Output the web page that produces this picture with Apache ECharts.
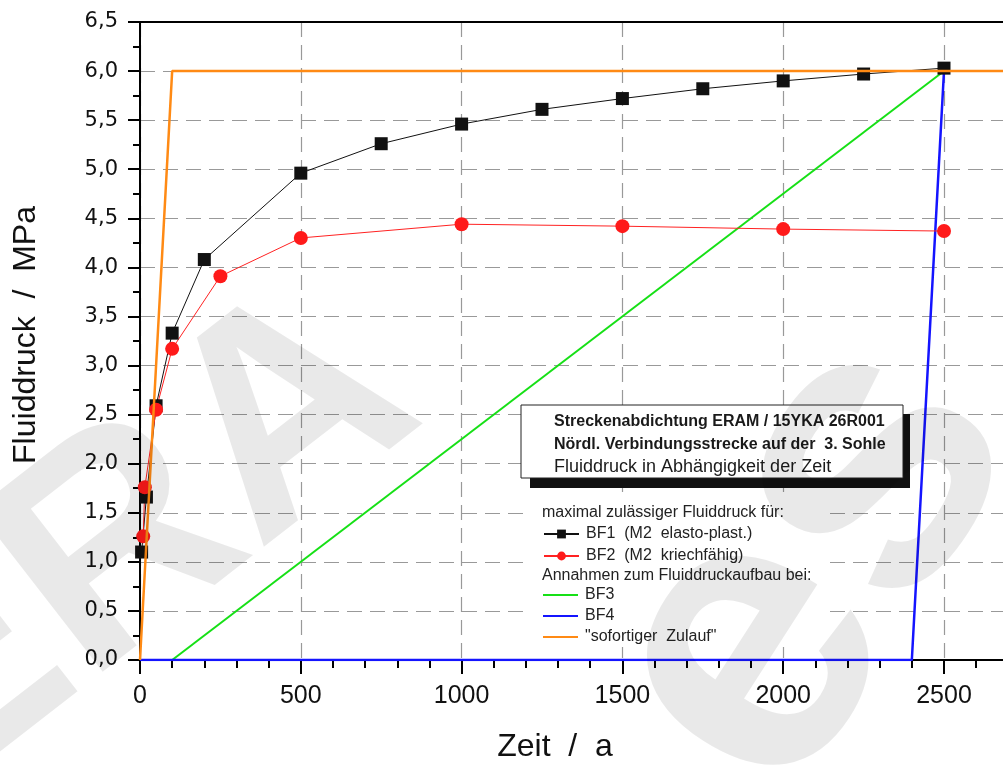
<!DOCTYPE html>
<html>
<head>
<meta charset="utf-8">
<script src="https://cdn.jsdelivr.net/npm/echarts@6/dist/echarts.min.js"></script>
<style>html,body{margin:0;padding:0;background:#fff}#c{width:1003px;height:767px}</style>
</head>
<body>
<div id="c"></div>
<script>
// ---- data ----
const bf1X = [5, 20, 50, 100, 200, 500, 750, 1000, 1250, 1500, 1750, 2000, 2250, 2500];
const bf1Y = [1.10, 1.66, 2.59, 3.33, 4.08, 4.96, 5.26, 5.46, 5.61, 5.72, 5.82, 5.90, 5.97, 6.03];
const bf2X = [10, 15, 50, 100, 250, 500, 1000, 1500, 2000, 2500];
const bf2Y = [1.26, 1.76, 2.55, 3.17, 3.91, 4.30, 4.44, 4.42, 4.39, 4.37];
const bf3X = [100, 2500];
const bf3Y = [0, 6.0];
const bf4X = [0, 2400, 2500];
const bf4Y = [0, 0, 6.0];
const sofX = [0, 100, 3000];
const sofY = [0, 6.0, 6.0];
const seriesNames = ['BF1  (M2  elasto-plast.)', 'BF2  (M2  kriechfähig)', 'BF3', 'BF4', '"sofortiger  Zulauf"'];
const xTicks = [0, 500, 1000, 1500, 2000, 2500];
const infoLines = ['Streckenabdichtung ERAM / 15YKA 26R001', 'Nördl. Verbindungsstrecke auf der  3. Sohle', 'Fluiddruck in Abhängigkeit der Zeit'];
const legendHeads = ['maximal zulässiger Fluiddruck für:', 'Annahmen zum Fluiddruckaufbau bei:'];
const xName = 'Zeit  /  a';
const yName = 'Fluiddruck  /  MPa';

const zip = (xs, ys) => xs.map((x, i) => [x, ys[i]]);
const chart = echarts.init(document.getElementById('c'), null, {renderer: 'canvas'});
const FONT = 'Liberation Sans, Arial, sans-serif';
const WM = 'rgba(0,0,0,0.085)';

chart.setOption({
  animation: false,
  backgroundColor: '#fff',
  grid: {show: false, left: 140, top: 22, width: 964.8, height: 638, containLabel: false, outerBoundsMode: 'none'},
  xAxis: [{
    type: 'value', min: 0, max: 3000, interval: 500,
    axisLine: {lineStyle: {color: '#000', width: 2}},
    axisTick: {length: 14, lineStyle: {color: '#000', width: 2}},
    minorTick: {show: true, splitNumber: 5, length: 8, lineStyle: {color: '#000', width: 2}},
    axisLabel: {margin: 24, fontSize: 25, color: '#111', fontFamily: FONT,
      formatter: v => xTicks.indexOf(v) >= 0 ? String(v) : ''},
    splitLine: {show: true, lineStyle: {color: '#999', width: 1.2, type: [15, 8]}}
  }, {
    type: 'value', position: 'top', min: 0, max: 3000,
    axisLine: {show: true, lineStyle: {color: '#000', width: 2}},
    axisTick: {show: false}, axisLabel: {show: false}, splitLine: {show: false}
  }],
  yAxis: {
    type: 'value', min: 0, max: 6.5, interval: 0.5,
    axisLine: {show: true, lineStyle: {color: '#000', width: 2}},
    axisTick: {show: true, length: 12, lineStyle: {color: '#000', width: 2}},
    minorTick: {show: true, splitNumber: 2, length: 7, lineStyle: {color: '#000', width: 2}},
    axisLabel: {margin: 22, fontSize: 21, color: '#111', fontFamily: 'DejaVu Sans, sans-serif',
      formatter: v => v.toFixed(1).replace('.', ',')},
    splitLine: {show: true, lineStyle: {color: '#999', width: 1.2, type: [15, 8]}}
  },
  legend: [{
    data: [seriesNames[0], seriesNames[1]],
    orient: 'vertical', left: 543, top: 526, padding: 0, itemGap: 6, z: 10,
    itemWidth: 35, itemHeight: 11, selectedMode: false,
    textStyle: {fontSize: 16, color: '#222', fontFamily: FONT, lineHeight: 16, padding: [0, 0, 0, 2]}
  }, {
    data: [seriesNames[2], seriesNames[3], seriesNames[4]],
    orient: 'vertical', left: 543, top: 587, padding: 0, itemGap: 5, z: 10,
    itemWidth: 35, itemHeight: 2, icon: 'rect', selectedMode: false,
    textStyle: {fontSize: 16, color: '#222', fontFamily: FONT, lineHeight: 16, padding: [0, 0, 0, 2]}
  }],
  series: [
    {name: seriesNames[2], type: 'line', data: zip(bf3X, bf3Y), symbol: 'none',
     lineStyle: {color: '#16e016', width: 2}, itemStyle: {color: '#16e016'}, z: 2},
    {name: seriesNames[3], type: 'line', data: zip(bf4X, bf4Y), symbol: 'none',
     lineStyle: {color: '#1414ff', width: 2.5}, itemStyle: {color: '#1414ff'}, z: 2},
    {name: seriesNames[0], type: 'line', data: zip(bf1X, bf1Y), symbol: 'rect', symbolSize: 13,
     lineStyle: {color: '#111', width: 1}, itemStyle: {color: '#111'}, z: 3},
    {name: seriesNames[1], type: 'line', data: zip(bf2X, bf2Y), symbol: 'circle', symbolSize: 14,
     lineStyle: {color: '#ff2222', width: 1}, itemStyle: {color: '#ff1a1a'}, z: 3},
    {name: seriesNames[4], type: 'line', data: zip(sofX, sofY), symbol: 'none',
     lineStyle: {color: '#ff8a14', width: 2.5}, itemStyle: {color: '#ff8a14'}, z: 4}
  ],
  graphic: [
    // legend background (covers grid lines)
    {type: 'rect', z: 1, silent: true, shape: {x: 526, y: 492, width: 296, height: 155}, style: {fill: '#fff'}},
    // info box
    {type: 'rect', z: 50, shape: {x: 530, y: 414, width: 380, height: 74}, style: {fill: '#111'}},
    {type: 'rect', z: 51, shape: {x: 521, y: 405, width: 382, height: 73}, style: {fill: '#fff', stroke: '#222', lineWidth: 1}},
    {type: 'text', z: 52, x: 554, y: 422, style: {text: infoLines[0], fontSize: 16, fontWeight: 'bold', fontFamily: FONT, fill: '#1a1a1a', textVerticalAlign: 'middle'}},
    {type: 'text', z: 52, x: 554, y: 445, style: {text: infoLines[1], fontSize: 16, fontWeight: 'bold', fontFamily: FONT, fill: '#1a1a1a', textVerticalAlign: 'middle'}},
    {type: 'text', z: 52, x: 554, y: 467, style: {text: infoLines[2], fontSize: 18, fontFamily: FONT, fill: '#1a1a1a', textVerticalAlign: 'middle'}},
    // legend headings
    {type: 'text', z: 52, x: 542, y: 513, style: {text: legendHeads[0], fontSize: 16, fontFamily: FONT, fill: '#222', textVerticalAlign: 'middle'}},
    {type: 'text', z: 52, x: 542, y: 576, style: {text: legendHeads[1], fontSize: 16, fontFamily: FONT, fill: '#222', textVerticalAlign: 'middle'}},
    // axis names
    {type: 'text', x: 555, y: 747, style: {text: xName, fontSize: 32, fontFamily: FONT, fill: '#111', textAlign: 'center', textVerticalAlign: 'middle'}},
    {type: 'text', x: 26, y: 335, rotation: Math.PI / 2, style: {text: yName, fontSize: 32, fontFamily: FONT, fill: '#111', textAlign: 'center', textVerticalAlign: 'middle'}},
    // watermark (translucent overlay)
    {type: 'text', z: 100, silent: true, x: -30, y: 860, rotation: 0.66,
     style: {text: 'ERA', fontSize: 300, fontWeight: 'bold', fontFamily: FONT, fill: WM, textVerticalAlign: 'bottom'}},
    {type: 'text', z: 100, silent: true, x: 860, y: 860, rotation: 1.0,
     style: {text: 'es', fontSize: 400, fontWeight: 'bold', fontFamily: FONT, fill: WM, textVerticalAlign: 'bottom'}}
  ]
});
</script>
</body>
</html>
